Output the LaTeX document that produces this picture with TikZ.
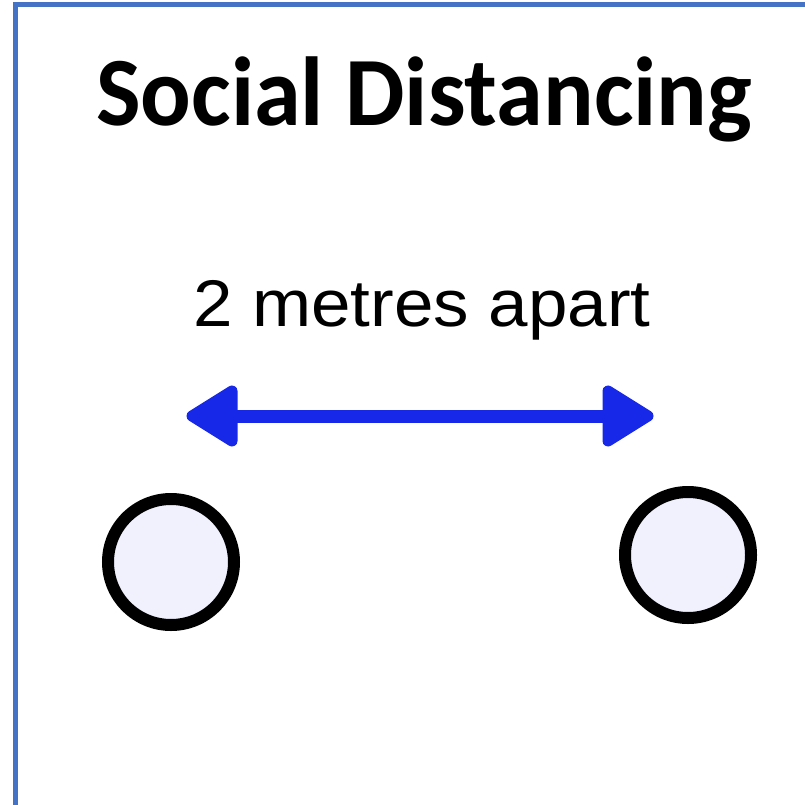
\documentclass[tikz,border=0pt]{standalone}
\usepackage{fontspec}
\setmainfont{Liberation Sans}
\newfontfamily\titlefont{Carlito}
\definecolor{frameblue}{RGB}{68,114,196}
\definecolor{arrowblue}{RGB}{24,40,232}
\definecolor{discfill}{RGB}{241,241,254}
\tikzset{
  person/.style={circle, draw=black, line width=12pt, fill=discfill, minimum size=126pt, inner sep=0pt},
  arrowline/.style={draw=arrowblue, line width=13pt},
  arrowhead/.style={draw=arrowblue, fill=arrowblue, line width=11pt, line join=round}
}
\begin{document}
\begin{tikzpicture}[x=1pt,y=-1pt]
\useasboundingbox (0,0) rectangle (805,805);
\clip (0,0) rectangle (805,805);
\draw[frameblue, line width=5pt] (15,840) -- (15,5) -- (840,5);
\node[anchor=base, inner sep=0pt, font=\titlefont\bfseries\fontsize{98}{98}\selectfont] (title) at (424,126) {\scalebox{0.963}[1]{Social Distancing}};
\node[anchor=base, inner sep=0pt, font=\fontsize{66}{66}\selectfont] (label) at (422,326) {\scalebox{1.075}[1]{2 metres apart}};
\coordinate (L) at (192,416);
\coordinate (R) at (648,416);
\path[arrowline] (L) ++(38,0) -- ([xshift=-38pt]R);
\path[arrowhead] (L) -- ++(40,-25) -- ++(0,50) -- cycle;
\path[arrowhead] (R) -- ++(-40,-25) -- ++(0,50) -- cycle;
\node[person] (p1) at (171,562) {};
\node[person] (p2) at (688,555) {};
\end{tikzpicture}
\end{document}
